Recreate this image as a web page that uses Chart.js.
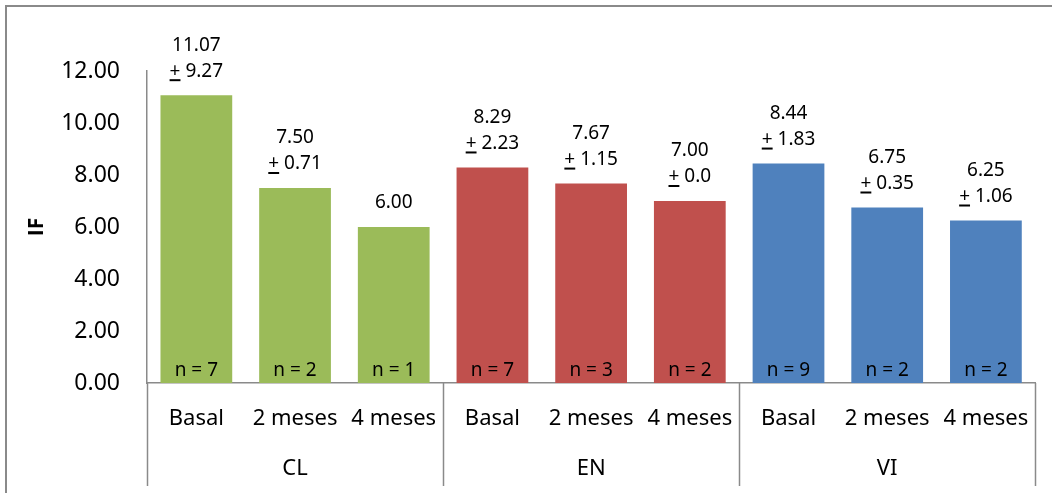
<!DOCTYPE html>
<html>
<head>
<meta charset="utf-8">
<script src="https://cdn.jsdelivr.net/npm/chart.js@4/dist/chart.umd.min.js"></script>
<style>
  html, body { margin: 0; padding: 0; background: #fff; }
  canvas { display: block; }
</style>
</head>
<body>
<canvas id="c" width="1052" height="493"></canvas>
<script>
const groups = ['CL', 'EN', 'VI'];
const periods = ['Basal', '2 meses', '4 meses'];
const means = [11.07, 7.50, 6.00, 8.29, 7.67, 7.00, 8.44, 6.75, 6.25];
const meanLabels = ['11.07', '7.50', '6.00', '8.29', '7.67', '7.00', '8.44', '6.75', '6.25'];
const sdLabels = ['9.27', '0.71', null, '2.23', '1.15', '0.0', '1.83', '0.35', '1.06'];
const nValues = [7, 2, 1, 7, 3, 2, 9, 2, 2];
const yTicks = [0, 2, 4, 6, 8, 10, 12];
const groupColors = ['#9BBB59', '#C0504D', '#4F81BD'];

const categories = [];
const barColors = [];
groups.forEach((g, gi) => periods.forEach(p => { categories.push(p); barColors.push(groupColors[gi]); }));

const FONT = '"Noto Sans", "Open Sans", sans-serif';
const BOLD_FONT = '"Open Sans", "Liberation Sans", sans-serif';
const AXIS_GRAY = '#8a8a8a';

const annotate = {
  id: 'annotate',
  beforeDraw(chart) {
    const ctx = chart.ctx;
    ctx.save();
    ctx.strokeStyle = AXIS_GRAY;
    ctx.lineWidth = 2;
    ctx.strokeRect(6, 6, 1200, 800);
    ctx.restore();
  },
  afterDraw(chart) {
    const ctx = chart.ctx;
    const x = chart.scales.x;
    const y = chart.scales.y;
    const meta = chart.getDatasetMeta(0);
    ctx.save();
    // group separators
    ctx.strokeStyle = AXIS_GRAY;
    ctx.lineWidth = 1.5;
    const half = (x.getPixelForValue(1) - x.getPixelForValue(0)) / 2;
    for (let g = 0; g <= groups.length; g++) {
      const idx = Math.min(g * periods.length, categories.length - 1);
      const px = g * periods.length < categories.length ? x.getPixelForValue(idx) - half : x.getPixelForValue(idx) + half;
      ctx.beginPath();
      ctx.moveTo(Math.round(px) + 0.5, y.getPixelForValue(0));
      ctx.lineTo(Math.round(px) + 0.5, 486);
      ctx.stroke();
    }
    // value labels
    ctx.fillStyle = '#000';
    ctx.font = '19px ' + FONT;
    ctx.textAlign = 'center';
    ctx.textBaseline = 'middle';
    meta.data.forEach((bar, i) => {
      const top = bar.y;
      const cx = bar.x;
      if (sdLabels[i] !== null) {
        ctx.fillText(meanLabels[i], cx, top - 50);
        const txt = '+ ' + sdLabels[i];
        ctx.fillText(txt, cx, top - 24);
        const w = ctx.measureText(txt).width;
        const pw = ctx.measureText('+').width;
        const sx = cx - w / 2;
        ctx.fillRect(sx, top - 24 + 8, pw, 2);
      } else {
        ctx.fillText(meanLabels[i], cx, top - 24);
      }
      ctx.fillText('n = ' + nValues[i], cx, y.getPixelForValue(0) - 12);
    });
    ctx.restore();
  }
};

new Chart(document.getElementById('c'), {
  type: 'bar',
  data: {
    labels: categories,
    datasets: [{
      data: means,
      backgroundColor: barColors,
      borderWidth: 0,
      barPercentage: 0.727,
      categoryPercentage: 1.0
    }]
  },
  options: {
    responsive: false,
    animation: false,
    events: [],
    layout: { padding: { top: 71, right: 13, bottom: 0, left: 0 } },
    plugins: { legend: { display: false }, tooltip: { enabled: false } },
    scales: {
      x: {
        type: 'category',
        position: 'bottom',
        grid: { display: false, drawTicks: false },
        border: { display: true, color: AXIS_GRAY, width: 1.5 },
        ticks: { color: '#000', font: { family: FONT, size: 22 }, padding: 23, maxRotation: 0, autoSkip: false },
        afterFit: s => { s.height = 65; }
      },
      x2: {
        type: 'category',
        position: 'bottom',
        labels: groups,
        offset: true,
        grid: { display: false, drawTicks: false },
        border: { display: false },
        ticks: { color: '#000', font: { family: FONT, size: 22 }, padding: 8, maxRotation: 0, autoSkip: false },
        afterFit: s => { s.height = 45; }
      },
      y: {
        min: 0,
        max: 12,
        afterBuildTicks: s => { s.ticks = yTicks.map(v => ({ value: v })); },
        grid: { display: false, drawTicks: false },
        border: { display: true, color: AXIS_GRAY, width: 1.5 },
        ticks: { color: '#000', font: { family: FONT, size: 23 }, padding: 27, callback: v => v.toFixed(2) },
        title: { display: true, text: 'IF', color: '#000', font: { family: BOLD_FONT, size: 21, weight: 'bold' }, padding: { top: 24, bottom: 0 } },
        afterFit: s => { s.width = 147; }
      }
    }
  },
  plugins: [annotate]
});
</script>
</body>
</html>
